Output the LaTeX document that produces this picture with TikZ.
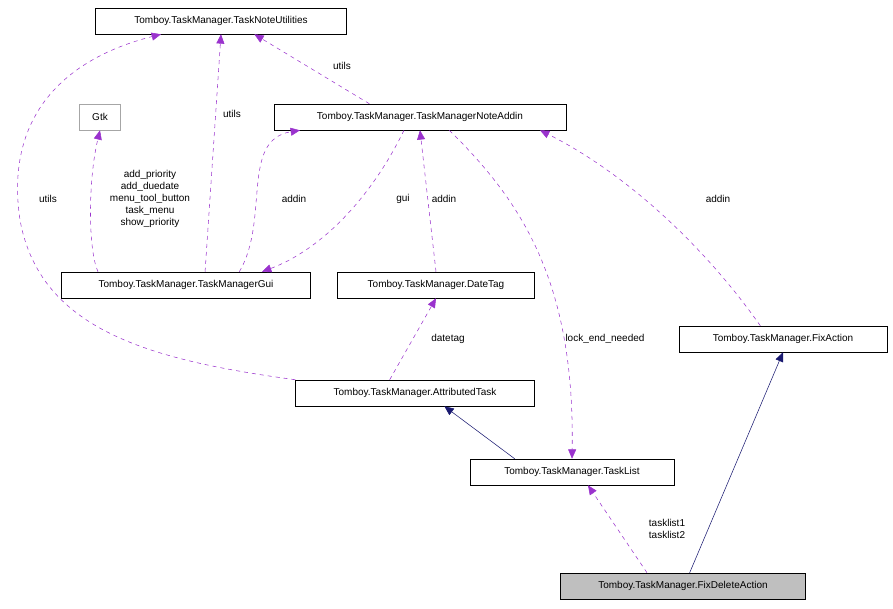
\documentclass[tikz,border=0pt]{standalone}
\usepackage{fontspec}
\setmainfont{Liberation Sans}
\usetikzlibrary{arrows.meta}
\definecolor{ep}{HTML}{9A32CD}
\definecolor{nv}{HTML}{191970}
\begin{document}
\begin{tikzpicture}[x=0.75pt,y=-0.75pt,
  box/.style={draw=black,fill=white,minimum height=19.5pt,inner sep=2pt,font=\fontsize{7.5}{9}\selectfont,anchor=center},
  dep/.style={draw=ep,dashed,-{Triangle[length=7pt,width=6pt]},fill=none},
  inh/.style={draw=nv,-{Triangle[length=7pt,width=6pt,fill=nv]}},
  lbl/.style={font=\fontsize{7.5}{9}\selectfont,inner sep=0pt,align=center}]
\useasboundingbox (0,0) rectangle (893,608);
\node[box,minimum width=188pt] (tnu) at (221,21) {Tomboy.TaskManager.TaskNoteUtilities};
\node[box,draw=gray!70,minimum width=31pt] (gtk) at (100,117) {Gtk};
\node[box,minimum width=219pt] (add) at (420,117) {Tomboy.TaskManager.TaskManagerNoteAddin};
\node[box,minimum width=187pt] (gui) at (186,285) {Tomboy.TaskManager.TaskManagerGui};
\node[box,minimum width=148pt] (dt) at (436,285) {Tomboy.TaskManager.DateTag};
\node[box,minimum width=156pt] (fa) at (783,339) {Tomboy.TaskManager.FixAction};
\node[box,minimum width=179pt] (at) at (415,393) {Tomboy.TaskManager.AttributedTask};
\node[box,minimum width=153pt] (tl) at (572,472) {Tomboy.TaskManager.TaskList};
\node[box,fill=gray!50,minimum width=184pt] (fda) at (683,586) {Tomboy.TaskManager.FixDeleteAction};
\draw[dep] (gui.north west)+(144,0) coordinate (g1) (g1) -- (tnu.south);
\node[lbl] at (232,114) {utils};
\draw[dep] ([xshift=-66pt]gui.north) .. controls (88,250) and (88,180) .. (gtk.south);
\node[lbl] at (150,199) {add\_priority\\add\_duedate\\menu\_tool\_button\\task\_menu\\show\_priority};
\draw[dep] ([xshift=40pt]gui.north) .. controls (270,220) and (240,140) .. ([xshift=-90pt]add.south);
\node[lbl] at (294,199) {addin};
\draw[dep] ([xshift=-12pt]add.south) .. controls (370,200) and (320,250) .. ([xshift=57pt]gui.north);
\node[lbl] at (403,199) {gui};
\draw[dep] (dt.north) -- (add.south);
\node[lbl] at (444,199) {addin};
\draw[dep] ([xshift=-38pt]add.north) -- ([xshift=25pt]tnu.south);
\node[lbl] at (342,66) {utils};
\draw[dep] (at.north west) .. controls (150,360) and (40,330) .. (20,220) .. controls (5,120) and (60,60) .. ([xshift=-45pt]tnu.south);
\node[lbl] at (48,199) {utils};
\draw[dep] ([xshift=-19pt]at.north) -- (dt.south);
\node[lbl] at (448,339) {datetag};
\draw[dep] ([xshift=22pt]add.south) .. controls (520,200) and (575,280) .. (tl.north);
\node[lbl,fill=white] at (605,339) {lock\_end\_needed};
\draw[dep] ([xshift=-17pt]fa.north) .. controls (700,240) and (620,170) .. ([xshift=90pt]add.south);
\node[lbl] at (718,199) {addin};
\draw[inh] ([xshift=-43pt]tl.north) -- ([xshift=22pt]at.south);
\draw[dep] ([xshift=-27pt]fda.north) -- ([xshift=12pt]tl.south);
\node[lbl] at (667,529) {tasklist1\\tasklist2};
\draw[inh] ([xshift=5pt]fda.north) -- (fa.south);
\end{tikzpicture}
\end{document}
